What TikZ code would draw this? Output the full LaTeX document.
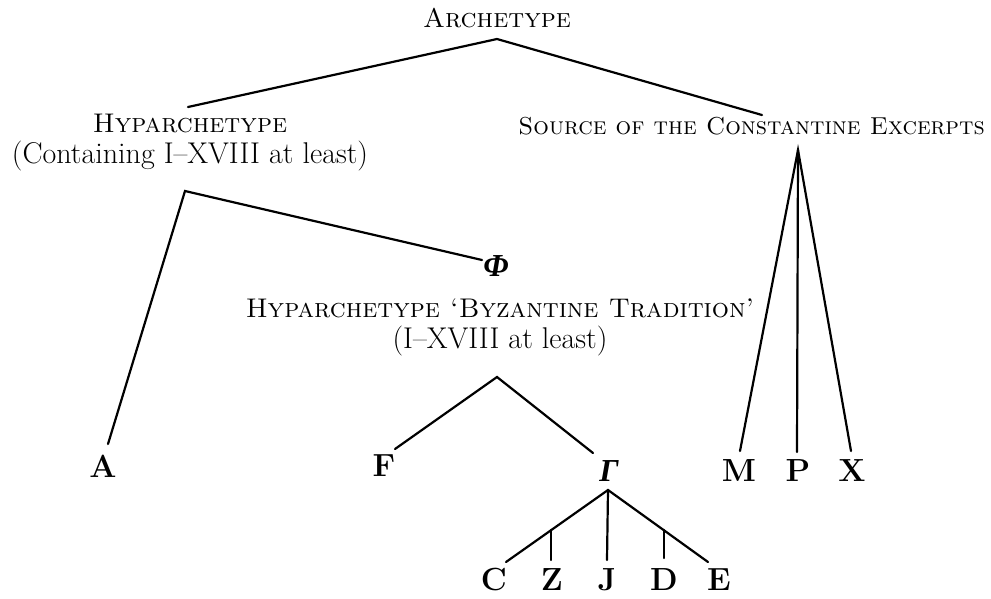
\documentclass[tikz,border=0pt]{standalone}
\usepackage{fontspec}
\newfontfamily\greekf{Liberation Serif}
\begin{document}
\begin{tikzpicture}[x=1pt,y=-1pt,
  lbl/.style={inner sep=0pt,font=\fontsize{27}{31}\selectfont,align=center},
  ms/.style={inner sep=0pt,font=\fontsize{32}{32}\selectfont\bfseries},
  gk/.style={inner sep=0pt,font=\fontsize{32}{32}\selectfont\greekf\bfseries\itshape},
  edge/.style={line width=2.2pt,line cap=round}]
\useasboundingbox (0,0) rectangle (991,598);
% text nodes
\node[lbl] (arch) at (497,18) {\textsc{Archetype}};
\node[lbl] (hyp) at (190,143) {\textsc{Hyparchetype}\\{\fontsize{30}{30}\selectfont(Containing I--XVIII at least)}};
\node[lbl,anchor=east,font=\fontsize{24.5}{28}\selectfont] (src) at (985,126) {\textsc{Source of the Constantine Excerpts}};
\node[gk] (phi) at (496,266) {Φ};
\node[lbl] (byz) at (500,327) {\textsc{Hyparchetype `Byzantine Tradition'}\\{\fontsize{30}{30}\selectfont(I--XVIII at least)}};
\node[ms] (A) at (103,466) {A};
\node[ms] (F) at (384,466) {F};
\node[gk] (gam) at (609,471) {Γ};
\node[ms] (M) at (739,471) {M};
\node[ms] (P) at (798,471) {P};
\node[ms] (X) at (852,471) {X};
\node[ms] (C) at (494,580) {C};
\node[ms] (Z) at (552,580) {Z};
\node[ms] (J) at (607,580) {J};
\node[ms] (D) at (664,580) {D};
\node[ms] (E) at (719,580) {E};
% connector end points
\coordinate (archB) at (497,39);
\coordinate (hypT) at (188,107);
\coordinate (srcT) at (762,115);
\coordinate (hypB) at (185,191);
\coordinate (aT) at (108,444);
\coordinate (phiT) at (482,260);
\coordinate (byzB) at (497,377);
\coordinate (fT) at (395,449);
\coordinate (gT) at (593,453);
\coordinate (gB) at (608,490);
\coordinate (cT) at (506,562);
\coordinate (jT) at (607,560);
\coordinate (eT) at (708,562);
\coordinate (zK) at (551,530);
\coordinate (zT) at (551,560);
\coordinate (dK) at (664,530);
\coordinate (dT) at (664,558);
\coordinate (srcB) at (798,150);
\coordinate (mT) at (740,451);
\coordinate (pT) at (797,452);
\coordinate (xT) at (851,451);
% connectors
\draw[edge] (hypT) -- (archB) -- (srcT);
\draw[edge] (aT) -- (hypB) -- (phiT);
\draw[edge] (fT) -- (byzB) -- (gT);
\draw[edge] (cT) -- (gB) -- (eT);
\draw[edge] (gB) -- (jT);
\draw[edge] (zK) -- (zT);
\draw[edge] (dK) -- (dT);
\draw[edge] (mT) -- (srcB) -- (xT);
\draw[edge] (srcB) -- (pT);
\end{tikzpicture}
\end{document}
